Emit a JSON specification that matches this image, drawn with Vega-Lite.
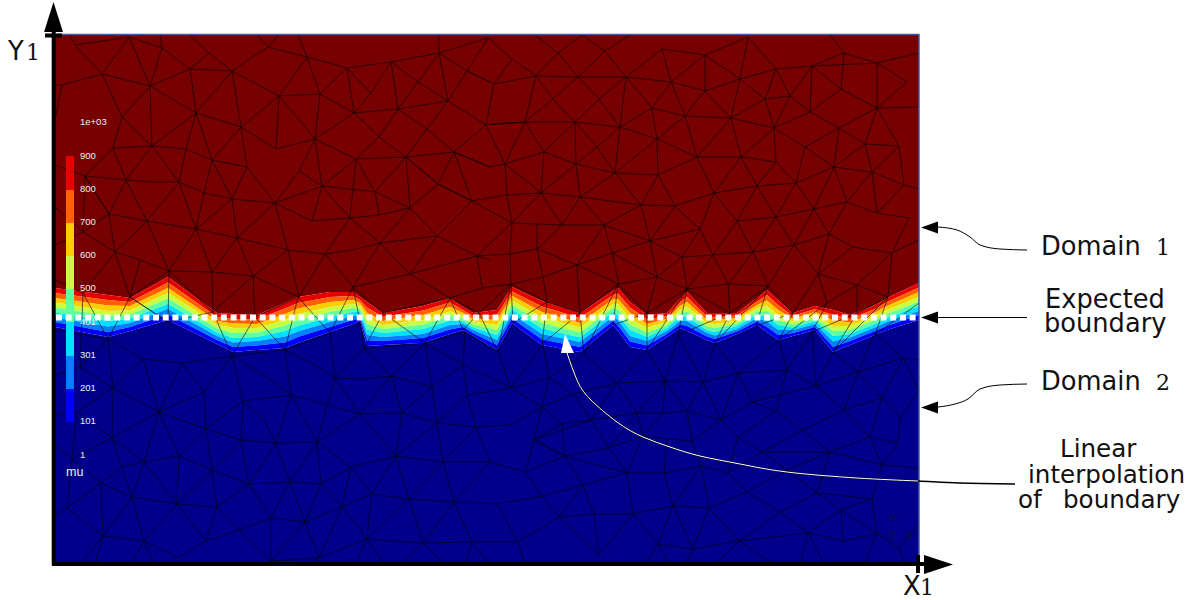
{"$schema":"https://vega.github.io/schema/vega-lite/v6.json","width":1185,"height":600,"padding":0,"autosize":{"type":"none"},"background":"white","config":{"view":{"stroke":null},"axis":{"disable":true}},
"datasets":{
"bands":[{"x":0,"c0":277,"c1":272,"c2":267,"c3":262.5,"c4":257.5,"c5":252.5,"c6":247.5,"c7":243,"c8":238},{"x":53,"c0":270,"c1":265,"c2":259.5,"c3":254,"c4":249,"c5":244,"c6":238.5,"c7":233,"c8":228},{"x":75,"c0":267,"c1":263,"c2":259,"c3":254.5,"c4":250.5,"c5":246.5,"c6":242,"c7":238,"c8":234},{"x":113,"c0":288,"c1":282.5,"c2":277,"c3":272,"c4":266.5,"c5":261,"c6":256,"c7":250.5,"c8":245},{"x":162,"c0":252,"c1":248,"c2":244,"c3":240.5,"c4":236.5,"c5":232.5,"c6":229,"c7":225,"c8":221},{"x":178,"c0":251,"c1":246,"c2":241.5,"c3":237,"c4":232,"c5":227,"c6":222.5,"c7":218,"c8":213},{"x":202,"c0":250,"c1":245.5,"c2":241,"c3":237,"c4":232.5,"c5":228,"c6":224,"c7":219.5,"c8":215},{"x":230,"c0":262,"c1":256.5,"c2":251,"c3":245,"c4":239.5,"c5":234,"c6":228.5,"c7":222.5,"c8":217},{"x":243,"c0":268,"c1":262,"c2":256.5,"c3":251,"c4":245,"c5":239,"c6":233.5,"c7":228,"c8":222},{"x":275,"c0":273,"c1":268,"c2":263,"c3":258,"c4":253,"c5":248,"c6":243,"c7":238,"c8":233},{"x":298,"c0":273,"c1":269,"c2":265,"c3":261,"c4":257,"c5":253,"c6":249,"c7":245,"c8":241},{"x":305,"c0":268,"c1":265,"c2":262,"c3":259,"c4":256,"c5":253,"c6":250,"c7":247,"c8":244},{"x":312,"c0":263,"c1":257.5,"c2":252,"c3":246.5,"c4":241,"c5":235.5,"c6":230,"c7":224.5,"c8":219},{"x":328,"c0":252,"c1":248,"c2":244,"c3":240,"c4":236,"c5":232,"c6":228,"c7":224,"c8":220},{"x":368,"c0":259,"c1":254.5,"c2":250,"c3":245,"c4":240.5,"c5":236,"c6":231,"c7":227,"c8":222},{"x":395,"c0":267,"c1":262.5,"c2":258,"c3":253.5,"c4":249,"c5":244.5,"c6":240,"c7":235.5,"c8":231},{"x":408,"c0":258,"c1":255,"c2":252,"c3":249.5,"c4":246.5,"c5":243.5,"c6":241,"c7":238,"c8":235},{"x":418,"c0":252,"c1":249,"c2":246,"c3":243.5,"c4":240.5,"c5":237.5,"c6":235,"c7":232,"c8":229},{"x":442,"c0":255,"c1":250,"c2":245,"c3":240,"c4":235,"c5":230,"c6":225,"c7":220,"c8":215},{"x":457,"c0":278,"c1":273.5,"c2":269,"c3":264.5,"c4":260,"c5":255.5,"c6":251,"c7":246.5,"c8":242},{"x":487,"c0":264,"c1":258.5,"c2":253,"c3":247.5,"c4":242,"c5":236.5,"c6":231,"c7":225.5,"c8":220},{"x":525,"c0":252,"c1":247,"c2":242,"c3":237.5,"c4":232.5,"c5":227.5,"c6":223,"c7":218,"c8":213},{"x":558,"c0":274,"c1":270,"c2":265.5,"c3":261,"c4":257,"c5":253,"c6":248.5,"c7":244,"c8":240},{"x":563,"c0":277,"c1":271.5,"c2":266,"c3":261,"c4":255.5,"c5":250,"c6":245,"c7":239.5,"c8":234},{"x":575,"c0":263,"c1":257.5,"c2":252,"c3":246,"c4":240.5,"c5":235,"c6":229,"c7":223.5,"c8":218},{"x":592,"c0":250,"c1":245.5,"c2":241,"c3":237,"c4":232.5,"c5":228,"c6":224,"c7":219.5,"c8":215},{"x":612,"c0":252,"c1":249,"c2":246,"c3":243,"c4":240,"c5":237,"c6":234,"c7":231,"c8":228},{"x":625,"c0":266,"c1":262.5,"c2":259,"c3":255,"c4":251.5,"c5":248,"c6":244,"c7":240.5,"c8":237},{"x":632,"c0":273,"c1":268,"c2":263,"c3":258.5,"c4":253.5,"c5":248.5,"c6":244,"c7":239,"c8":234},{"x":652,"c0":252,"c1":248.5,"c2":245,"c3":242,"c4":238.5,"c5":235,"c6":232,"c7":228.5,"c8":225},{"x":660,"c0":252,"c1":248,"c2":244.5,"c3":241,"c4":237,"c5":233,"c6":229.5,"c7":226,"c8":222},{"x":682,"c0":252,"c1":249.5,"c2":247,"c3":244,"c4":241.5,"c5":239,"c6":236,"c7":233.5,"c8":231},{"x":702,"c0":267,"c1":263.5,"c2":260,"c3":257,"c4":253.5,"c5":250,"c6":247,"c7":243.5,"c8":240},{"x":712,"c0":275,"c1":270,"c2":264.5,"c3":259,"c4":254,"c5":249,"c6":243.5,"c7":238,"c8":233},{"x":723,"c0":265,"c1":260,"c2":255,"c3":250,"c4":245,"c5":240,"c6":235,"c7":230,"c8":225},{"x":738,"c0":252,"c1":249,"c2":246,"c3":243.5,"c4":240.5,"c5":237.5,"c6":235,"c7":232,"c8":229},{"x":760,"c0":259,"c1":256,"c2":253,"c3":250,"c4":247,"c5":244,"c6":241,"c7":238,"c8":235},{"x":778,"c0":255,"c1":250,"c2":244.5,"c3":239,"c4":234,"c5":229,"c6":223.5,"c7":218,"c8":213},{"x":795,"c0":250,"c1":246,"c2":242.5,"c3":239,"c4":235,"c5":231,"c6":227.5,"c7":224,"c8":220},{"x":820,"c0":260,"c1":256,"c2":252.5,"c3":249,"c4":245,"c5":241,"c6":237.5,"c7":234,"c8":230},{"x":832,"c0":267,"c1":263,"c2":259,"c3":255,"c4":251,"c5":247,"c6":243,"c7":239,"c8":235},{"x":864,"c0":282,"c1":277.5,"c2":273,"c3":268,"c4":263.5,"c5":259,"c6":254,"c7":250,"c8":245}],
"mesh":[
{"l":1,"x":7,"y":480},{"l":1,"x":47,"y":491},{"l":1,"x":95,"y":479},{"l":1,"x":141,"y":452},{"l":1,"x":186,"y":438},{"l":1,"x":221,"y":416},{"l":1,"x":260,"y":426},{"l":1,"x":301,"y":406},{"l":1,"x":351,"y":408},{"l":1,"x":399,"y":413},{"l":1,"x":435,"y":398},
{"l":2,"x":20,"y":520},{"l":2,"x":47,"y":491},{"l":2,"x":67,"y":448},{"l":2,"x":97,"y":419},{"l":2,"x":131,"y":416},{"l":2,"x":157,"y":405},{"l":2,"x":192,"y":398},{"l":2,"x":220,"y":362},{"l":2,"x":244,"y":394},{"l":2,"x":260,"y":426},{"l":2,"x":265,"y":471},{"l":2,"x":252,"y":508},{"l":2,"x":213,"y":518},{"l":2,"x":202,"y":530},
{"l":3,"x":47,"y":491},{"l":3,"x":74,"y":528},{"l":3,"x":95,"y":479},{"l":3,"x":107,"y":517},{"l":3,"x":74,"y":528},{"l":3,"x":20,"y":520},
{"l":4,"x":105,"y":530},{"l":4,"x":107,"y":517},{"l":4,"x":135,"y":496},{"l":4,"x":95,"y":479},
{"l":5,"x":135,"y":496},{"l":5,"x":154,"y":512},{"l":5,"x":177,"y":494},{"l":5,"x":135,"y":496},{"l":5,"x":141,"y":452},{"l":5,"x":177,"y":494},{"l":5,"x":186,"y":438},{"l":5,"x":224,"y":469},{"l":5,"x":177,"y":494},{"l":5,"x":213,"y":518},{"l":5,"x":224,"y":530},
{"l":6,"x":154,"y":512},{"l":6,"x":135,"y":530},
{"l":7,"x":95,"y":479},{"l":7,"x":67,"y":448},{"l":7,"x":58,"y":417},{"l":7,"x":30,"y":389},{"l":7,"x":0,"y":400},
{"l":8,"x":252,"y":508},{"l":8,"x":224,"y":469},{"l":8,"x":221,"y":416},
{"l":9,"x":224,"y":469},{"l":9,"x":260,"y":426},
{"l":10,"x":224,"y":469},{"l":10,"x":265,"y":471},{"l":10,"x":299,"y":452},{"l":10,"x":343,"y":456},{"l":10,"x":393,"y":464},{"l":10,"x":431,"y":440},{"l":10,"x":399,"y":413},
{"l":11,"x":260,"y":426},{"l":11,"x":299,"y":452},{"l":11,"x":324,"y":428},{"l":11,"x":301,"y":406},{"l":11,"x":295,"y":347},{"l":11,"x":267,"y":379},{"l":11,"x":301,"y":406},
{"l":12,"x":141,"y":452},{"l":12,"x":131,"y":416},{"l":12,"x":124,"y":383},{"l":12,"x":97,"y":419},{"l":12,"x":95,"y":479},
{"l":13,"x":141,"y":452},{"l":13,"x":97,"y":419},{"l":13,"x":71,"y":385},{"l":13,"x":58,"y":417},{"l":13,"x":97,"y":419},
{"l":14,"x":141,"y":452},{"l":14,"x":157,"y":405},{"l":14,"x":186,"y":438},{"l":14,"x":192,"y":398},{"l":14,"x":177,"y":366},{"l":14,"x":157,"y":405},{"l":14,"x":149,"y":372},{"l":14,"x":124,"y":383},{"l":14,"x":96,"y":383},{"l":14,"x":71,"y":385},{"l":14,"x":30,"y":389},{"l":14,"x":54,"y":351},{"l":14,"x":71,"y":385},{"l":14,"x":92,"y":344},{"l":14,"x":124,"y":383},{"l":14,"x":141,"y":336},{"l":14,"x":149,"y":372},
{"l":15,"x":141,"y":336},{"l":15,"x":177,"y":366},{"l":15,"x":182,"y":327},{"l":15,"x":220,"y":362},{"l":15,"x":177,"y":366},{"l":15,"x":149,"y":372},
{"l":16,"x":220,"y":362},{"l":16,"x":233,"y":315},
{"l":17,"x":220,"y":362},{"l":17,"x":257,"y":344},{"l":17,"x":267,"y":379},{"l":17,"x":220,"y":362},
{"l":18,"x":244,"y":394},{"l":18,"x":267,"y":379},{"l":18,"x":260,"y":426},
{"l":19,"x":267,"y":379},{"l":19,"x":320,"y":373},{"l":19,"x":324,"y":350},{"l":19,"x":295,"y":347},{"l":19,"x":257,"y":344},
{"l":20,"x":30,"y":389},{"l":20,"x":54,"y":351},{"l":20,"x":92,"y":344},{"l":20,"x":141,"y":336},{"l":20,"x":182,"y":327},{"l":20,"x":233,"y":315},{"l":20,"x":270,"y":311},{"l":20,"x":297,"y":315},{"l":20,"x":325,"y":322},{"l":20,"x":382,"y":329},{"l":20,"x":422,"y":309},{"l":20,"x":435,"y":305},
{"l":21,"x":270,"y":311},{"l":21,"x":295,"y":347},{"l":21,"x":325,"y":322},{"l":21,"x":355,"y":357},{"l":21,"x":324,"y":350},
{"l":22,"x":320,"y":373},{"l":22,"x":301,"y":406},
{"l":23,"x":320,"y":373},{"l":23,"x":351,"y":408},{"l":23,"x":355,"y":357},{"l":23,"x":320,"y":373},
{"l":24,"x":351,"y":408},{"l":24,"x":324,"y":428},{"l":24,"x":343,"y":456},
{"l":25,"x":355,"y":357},{"l":25,"x":383,"y":381},{"l":25,"x":351,"y":408},{"l":25,"x":383,"y":381},{"l":25,"x":399,"y":413},{"l":25,"x":417,"y":364},{"l":25,"x":383,"y":381},{"l":25,"x":417,"y":364},{"l":25,"x":382,"y":329},{"l":25,"x":355,"y":357},
{"l":26,"x":343,"y":456},{"l":26,"x":372,"y":436},{"l":26,"x":399,"y":413},
{"l":27,"x":351,"y":408},{"l":27,"x":372,"y":436},{"l":27,"x":393,"y":464},
{"l":28,"x":393,"y":464},{"l":28,"x":384,"y":512},{"l":28,"x":363,"y":483},{"l":28,"x":393,"y":464},
{"l":29,"x":343,"y":456},{"l":29,"x":363,"y":483},{"l":29,"x":336,"y":503},{"l":29,"x":343,"y":456},
{"l":30,"x":336,"y":503},{"l":30,"x":384,"y":512},{"l":30,"x":433,"y":527},
{"l":31,"x":384,"y":512},{"l":31,"x":412,"y":494},{"l":31,"x":393,"y":464},
{"l":32,"x":412,"y":494},{"l":32,"x":433,"y":527},
{"l":33,"x":412,"y":494},{"l":33,"x":435,"y":483},
{"l":34,"x":265,"y":471},{"l":34,"x":292,"y":497},{"l":34,"x":252,"y":508},{"l":34,"x":243,"y":530},
{"l":35,"x":299,"y":452},{"l":35,"x":292,"y":497},{"l":35,"x":336,"y":503},{"l":35,"x":316,"y":472},{"l":35,"x":292,"y":497},
{"l":36,"x":316,"y":472},{"l":36,"x":299,"y":452},
{"l":37,"x":54,"y":351},{"l":37,"x":60,"y":313},{"l":37,"x":92,"y":344},{"l":37,"x":114,"y":294},{"l":37,"x":141,"y":336},{"l":37,"x":157,"y":293},{"l":37,"x":182,"y":327},{"l":37,"x":198,"y":289},{"l":37,"x":233,"y":315},{"l":37,"x":244,"y":268},{"l":37,"x":270,"y":311},{"l":37,"x":298,"y":278},{"l":37,"x":325,"y":322},{"l":37,"x":355,"y":291},{"l":37,"x":382,"y":329},
{"l":38,"x":422,"y":309},{"l":38,"x":355,"y":291},{"l":38,"x":298,"y":278},
{"l":39,"x":355,"y":291},{"l":39,"x":395,"y":267},{"l":39,"x":427,"y":277},{"l":39,"x":422,"y":309},
{"l":40,"x":30,"y":389},{"l":40,"x":28,"y":333},{"l":40,"x":54,"y":351},
{"l":41,"x":28,"y":333},{"l":41,"x":60,"y":313},
{"l":42,"x":60,"y":313},{"l":42,"x":85,"y":305},{"l":42,"x":114,"y":294},{"l":42,"x":157,"y":293},{"l":42,"x":198,"y":289},{"l":42,"x":244,"y":268},
{"l":43,"x":85,"y":305},{"l":43,"x":75,"y":268},{"l":43,"x":60,"y":313},{"l":43,"x":28,"y":272},
{"l":44,"x":75,"y":268},{"l":44,"x":114,"y":294},
{"l":45,"x":0,"y":480},{"l":45,"x":7,"y":480},{"l":45,"x":0,"y":445},
{"l":46,"x":0,"y":358},{"l":46,"x":28,"y":333},{"l":46,"x":0,"y":320},
{"l":48,"x":384,"y":530},{"l":48,"x":384,"y":512},
{"l":49,"x":20,"y":520},{"l":49,"x":15,"y":530},
{"l":50,"x":28,"y":272},{"l":50,"x":53,"y":226},{"l":50,"x":75,"y":268},{"l":50,"x":113,"y":243},{"l":50,"x":158,"y":253},{"l":50,"x":177,"y":209},{"l":50,"x":200,"y":248},{"l":50,"x":230,"y":215},{"l":50,"x":243,"y":268},{"l":50,"x":275,"y":232},{"l":50,"x":298,"y":278},{"l":50,"x":305,"y":243},{"l":50,"x":309,"y":216},
{"l":51,"x":114,"y":294},{"l":51,"x":113,"y":243},{"l":51,"x":75,"y":268},
{"l":52,"x":114,"y":294},{"l":52,"x":158,"y":253},{"l":52,"x":157,"y":293},
{"l":53,"x":158,"y":253},{"l":53,"x":198,"y":289},{"l":53,"x":200,"y":248},{"l":53,"x":244,"y":268},
{"l":54,"x":28,"y":272},{"l":54,"x":25,"y":198},
{"l":55,"x":28,"y":272},{"l":55,"x":0,"y":285},
{"l":56,"x":298,"y":278},{"l":56,"x":328,"y":252},{"l":56,"x":309,"y":216},
{"l":57,"x":328,"y":252},{"l":57,"x":370,"y":222},{"l":57,"x":395,"y":267},{"l":57,"x":408,"y":235},{"l":57,"x":424,"y":252},{"l":57,"x":443,"y":213},{"l":57,"x":456,"y":281},{"l":57,"x":458,"y":242},{"l":57,"x":492,"y":263},{"l":57,"x":487,"y":221},{"l":57,"x":525,"y":252},{"l":57,"x":529,"y":211},{"l":57,"x":563,"y":281},{"l":57,"x":558,"y":240},{"l":57,"x":592,"y":252},{"l":57,"x":592,"y":215},{"l":57,"x":632,"y":276},{"l":57,"x":623,"y":230},{"l":57,"x":675,"y":252},{"l":57,"x":660,"y":222},{"l":57,"x":713,"y":279},{"l":57,"x":701,"y":239},{"l":57,"x":738,"y":252},{"l":57,"x":724,"y":225},{"l":57,"x":772,"y":262},{"l":57,"x":757,"y":233},{"l":57,"x":802,"y":252},{"l":57,"x":778,"y":213},{"l":57,"x":833,"y":268},{"l":57,"x":820,"y":230},{"l":57,"x":864,"y":262},
{"l":58,"x":395,"y":267},{"l":58,"x":328,"y":252},
{"l":59,"x":395,"y":267},{"l":59,"x":424,"y":252},{"l":59,"x":456,"y":281},{"l":59,"x":492,"y":263},{"l":59,"x":488,"y":288},
{"l":61,"x":523,"y":278},{"l":61,"x":525,"y":252},{"l":61,"x":492,"y":263},
{"l":62,"x":525,"y":252},{"l":62,"x":563,"y":281},{"l":62,"x":592,"y":252},{"l":62,"x":602,"y":288},
{"l":63,"x":592,"y":252},{"l":63,"x":632,"y":276},{"l":63,"x":675,"y":252},{"l":63,"x":673,"y":281},
{"l":64,"x":675,"y":252},{"l":64,"x":713,"y":279},{"l":64,"x":738,"y":252},{"l":64,"x":763,"y":291},{"l":64,"x":772,"y":262},{"l":64,"x":802,"y":280},{"l":64,"x":802,"y":252},{"l":64,"x":833,"y":268},
{"l":70,"x":439,"y":481},{"l":70,"x":481,"y":489},{"l":70,"x":523,"y":488},{"l":70,"x":571,"y":488},{"l":70,"x":616,"y":483},{"l":70,"x":650,"y":474},{"l":70,"x":685,"y":486},{"l":70,"x":721,"y":496},{"l":70,"x":757,"y":499},{"l":70,"x":822,"y":502},{"l":70,"x":864,"y":512},
{"l":71,"x":435,"y":441},{"l":71,"x":470,"y":443},{"l":71,"x":520,"y":443},{"l":71,"x":565,"y":438},{"l":71,"x":602,"y":426},{"l":71,"x":642,"y":408},{"l":71,"x":686,"y":408},{"l":71,"x":721,"y":403},{"l":71,"x":719,"y":437},{"l":71,"x":676,"y":447},{"l":71,"x":630,"y":449},{"l":71,"x":597,"y":457},{"l":71,"x":565,"y":438},
{"l":72,"x":719,"y":437},{"l":72,"x":750,"y":418},{"l":72,"x":779,"y":398},{"l":72,"x":817,"y":393},{"l":72,"x":849,"y":380},{"l":72,"x":864,"y":376},
{"l":73,"x":719,"y":437},{"l":73,"x":755,"y":453},{"l":73,"x":784,"y":437},{"l":73,"x":750,"y":418},
{"l":74,"x":755,"y":453},{"l":74,"x":735,"y":469},{"l":74,"x":710,"y":466},{"l":74,"x":719,"y":437},{"l":74,"x":735,"y":469},{"l":74,"x":757,"y":499},{"l":74,"x":755,"y":453},{"l":74,"x":786,"y":476},{"l":74,"x":757,"y":499},
{"l":75,"x":786,"y":476},{"l":75,"x":789,"y":512},{"l":75,"x":757,"y":499},
{"l":76,"x":786,"y":476},{"l":76,"x":822,"y":457},{"l":76,"x":822,"y":502},{"l":76,"x":789,"y":512},
{"l":77,"x":822,"y":457},{"l":77,"x":784,"y":437},{"l":77,"x":810,"y":421},{"l":77,"x":822,"y":457},{"l":77,"x":844,"y":419},{"l":77,"x":810,"y":421},{"l":77,"x":779,"y":398},{"l":77,"x":784,"y":437},
{"l":78,"x":822,"y":457},{"l":78,"x":852,"y":483},{"l":78,"x":822,"y":502},
{"l":79,"x":822,"y":457},{"l":79,"x":864,"y":458},
{"l":80,"x":810,"y":421},{"l":80,"x":817,"y":393},{"l":80,"x":844,"y":419},{"l":80,"x":849,"y":380},
{"l":81,"x":676,"y":447},{"l":81,"x":710,"y":466},{"l":81,"x":721,"y":496},{"l":81,"x":735,"y":469},
{"l":82,"x":721,"y":496},{"l":82,"x":693,"y":528},{"l":82,"x":685,"y":486},{"l":82,"x":710,"y":466},
{"l":83,"x":685,"y":486},{"l":83,"x":676,"y":447},{"l":83,"x":650,"y":474},{"l":83,"x":630,"y":449},{"l":83,"x":616,"y":483},{"l":83,"x":597,"y":457},{"l":83,"x":571,"y":488},{"l":83,"x":565,"y":438},
{"l":84,"x":571,"y":488},{"l":84,"x":544,"y":466},{"l":84,"x":520,"y":443},
{"l":85,"x":523,"y":488},{"l":85,"x":544,"y":466},{"l":85,"x":565,"y":438},
{"l":86,"x":481,"y":489},{"l":86,"x":498,"y":466},{"l":86,"x":520,"y":443},
{"l":87,"x":523,"y":488},{"l":87,"x":498,"y":466},{"l":87,"x":470,"y":443},{"l":87,"x":481,"y":489},
{"l":88,"x":457,"y":506},{"l":88,"x":481,"y":489},{"l":88,"x":503,"y":512},{"l":88,"x":523,"y":488},{"l":88,"x":550,"y":514},{"l":88,"x":571,"y":488},{"l":88,"x":607,"y":516},{"l":88,"x":616,"y":483},{"l":88,"x":650,"y":510},{"l":88,"x":607,"y":516},
{"l":89,"x":650,"y":510},{"l":89,"x":650,"y":474},
{"l":90,"x":650,"y":510},{"l":90,"x":685,"y":486},
{"l":91,"x":650,"y":510},{"l":91,"x":693,"y":528},
{"l":92,"x":480,"y":530},{"l":92,"x":503,"y":512},{"l":92,"x":527,"y":530},{"l":92,"x":550,"y":514},{"l":92,"x":575,"y":530},
{"l":94,"x":789,"y":512},{"l":94,"x":775,"y":530},
{"l":95,"x":450,"y":401},{"l":95,"x":470,"y":443},{"l":95,"x":489,"y":413},{"l":95,"x":520,"y":443},{"l":95,"x":521,"y":401},{"l":95,"x":542,"y":418},{"l":95,"x":520,"y":443},
{"l":96,"x":542,"y":418},{"l":96,"x":565,"y":438},{"l":96,"x":560,"y":392},{"l":96,"x":542,"y":418},
{"l":97,"x":450,"y":401},{"l":97,"x":489,"y":413},{"l":97,"x":521,"y":401},{"l":97,"x":560,"y":392},{"l":97,"x":603,"y":390},{"l":97,"x":642,"y":408},
{"l":98,"x":450,"y":401},{"l":98,"x":486,"y":372},{"l":98,"x":489,"y":413},
{"l":99,"x":452,"y":370},{"l":99,"x":486,"y":372},{"l":99,"x":525,"y":368},{"l":99,"x":586,"y":360},{"l":99,"x":620,"y":359},{"l":99,"x":659,"y":372},{"l":99,"x":702,"y":379},{"l":99,"x":741,"y":382},{"l":99,"x":779,"y":398},
{"l":100,"x":486,"y":372},{"l":100,"x":521,"y":401},{"l":100,"x":525,"y":368},{"l":100,"x":560,"y":392},{"l":100,"x":586,"y":360},{"l":100,"x":603,"y":390},{"l":100,"x":620,"y":359},
{"l":101,"x":560,"y":392},{"l":101,"x":602,"y":426},{"l":101,"x":603,"y":390},
{"l":102,"x":602,"y":426},{"l":102,"x":597,"y":457},
{"l":103,"x":602,"y":426},{"l":103,"x":630,"y":449},{"l":103,"x":642,"y":408},{"l":103,"x":676,"y":447},{"l":103,"x":686,"y":408},
{"l":104,"x":642,"y":408},{"l":104,"x":659,"y":372},{"l":104,"x":686,"y":408},{"l":104,"x":702,"y":379},{"l":104,"x":721,"y":403},{"l":104,"x":741,"y":382},{"l":104,"x":750,"y":418},
{"l":105,"x":686,"y":408},{"l":105,"x":719,"y":437},
{"l":106,"x":741,"y":382},{"l":106,"x":759,"y":356},{"l":106,"x":779,"y":398},{"l":106,"x":792,"y":363},{"l":106,"x":817,"y":393},{"l":106,"x":822,"y":352},{"l":106,"x":849,"y":380},
{"l":107,"x":702,"y":379},{"l":107,"x":721,"y":348},{"l":107,"x":741,"y":382},
{"l":108,"x":702,"y":379},{"l":108,"x":682,"y":344},{"l":108,"x":659,"y":372},{"l":108,"x":645,"y":336},{"l":108,"x":620,"y":359},{"l":108,"x":595,"y":324},{"l":108,"x":586,"y":360},{"l":108,"x":549,"y":340},{"l":108,"x":525,"y":368},{"l":108,"x":507,"y":340},{"l":108,"x":486,"y":372},{"l":108,"x":457,"y":342},{"l":108,"x":452,"y":370},
{"l":109,"x":457,"y":342},{"l":109,"x":482,"y":341},{"l":109,"x":507,"y":340},{"l":109,"x":549,"y":340},{"l":109,"x":595,"y":324},{"l":109,"x":645,"y":336},{"l":109,"x":658,"y":310},{"l":109,"x":682,"y":344},{"l":109,"x":698,"y":313},{"l":109,"x":721,"y":348},{"l":109,"x":739,"y":320},{"l":109,"x":759,"y":356},{"l":109,"x":774,"y":331},{"l":109,"x":792,"y":363},
{"l":110,"x":682,"y":344},{"l":110,"x":721,"y":348},{"l":110,"x":759,"y":356},{"l":110,"x":792,"y":363},{"l":110,"x":822,"y":352},{"l":110,"x":854,"y":347},
{"l":111,"x":595,"y":324},{"l":111,"x":627,"y":308},{"l":111,"x":645,"y":336},
{"l":112,"x":627,"y":308},{"l":112,"x":658,"y":310},{"l":112,"x":698,"y":313},{"l":112,"x":739,"y":320},{"l":112,"x":774,"y":331},{"l":112,"x":798,"y":318},{"l":112,"x":837,"y":312},
{"l":113,"x":457,"y":342},{"l":113,"x":455,"y":311},{"l":113,"x":482,"y":316},{"l":113,"x":482,"y":341},
{"l":114,"x":507,"y":340},{"l":114,"x":482,"y":316},{"l":114,"x":522,"y":300},{"l":114,"x":549,"y":340},{"l":114,"x":557,"y":312},{"l":114,"x":522,"y":300},
{"l":115,"x":595,"y":324},{"l":115,"x":557,"y":312},{"l":115,"x":564,"y":281},{"l":115,"x":522,"y":300},{"l":115,"x":523,"y":278},
{"l":116,"x":557,"y":312},{"l":116,"x":602,"y":288},{"l":116,"x":595,"y":324},
{"l":117,"x":627,"y":308},{"l":117,"x":602,"y":288},{"l":117,"x":564,"y":281},
{"l":118,"x":627,"y":308},{"l":118,"x":632,"y":276},{"l":118,"x":658,"y":310},{"l":118,"x":673,"y":281},{"l":118,"x":698,"y":313},{"l":118,"x":713,"y":279},{"l":118,"x":739,"y":320},{"l":118,"x":763,"y":291},{"l":118,"x":774,"y":331},
{"l":119,"x":798,"y":318},{"l":119,"x":763,"y":291},{"l":119,"x":802,"y":280},{"l":119,"x":833,"y":268},{"l":119,"x":837,"y":312},{"l":119,"x":802,"y":280},
{"l":120,"x":455,"y":311},{"l":120,"x":456,"y":281},{"l":120,"x":488,"y":288},{"l":120,"x":522,"y":300},
{"l":121,"x":482,"y":316},{"l":121,"x":488,"y":288},
{"l":122,"x":602,"y":288},{"l":122,"x":632,"y":276},{"l":122,"x":673,"y":281},{"l":122,"x":713,"y":279},
{"l":123,"x":854,"y":347},{"l":123,"x":837,"y":312},{"l":123,"x":864,"y":325},
{"l":124,"x":439,"y":481},{"l":124,"x":457,"y":506},{"l":124,"x":433,"y":527},
{"l":125,"x":431,"y":440},{"l":125,"x":450,"y":401},
{"l":126,"x":399,"y":413},{"l":126,"x":435,"y":398},{"l":126,"x":450,"y":401},{"l":126,"x":452,"y":370},{"l":126,"x":417,"y":364},{"l":126,"x":457,"y":342},{"l":126,"x":422,"y":309},{"l":126,"x":455,"y":311},
{"l":127,"x":427,"y":277},{"l":127,"x":456,"y":281},
{"l":128,"x":470,"y":443},{"l":128,"x":431,"y":440},{"l":128,"x":439,"y":481},{"l":128,"x":412,"y":494},
{"l":130,"x":0,"y":235},{"l":130,"x":53,"y":226},{"l":130,"x":88,"y":206},{"l":130,"x":127,"y":202},{"l":130,"x":177,"y":209},{"l":130,"x":230,"y":215},{"l":130,"x":275,"y":232},
{"l":131,"x":0,"y":190},{"l":131,"x":25,"y":198},{"l":131,"x":53,"y":226},{"l":131,"x":58,"y":177},{"l":131,"x":88,"y":206},{"l":131,"x":104,"y":153},{"l":131,"x":127,"y":202},{"l":131,"x":149,"y":173},{"l":131,"x":177,"y":209},{"l":131,"x":188,"y":164},{"l":131,"x":236,"y":170},{"l":131,"x":230,"y":215},{"l":131,"x":257,"y":202},{"l":131,"x":280,"y":187},{"l":131,"x":275,"y":232},
{"l":132,"x":25,"y":198},{"l":132,"x":58,"y":177},{"l":132,"x":104,"y":153},{"l":132,"x":149,"y":173},{"l":132,"x":151,"y":136},{"l":132,"x":104,"y":153},{"l":132,"x":124,"y":109},{"l":132,"x":151,"y":136},{"l":132,"x":188,"y":164},{"l":132,"x":209,"y":145},{"l":132,"x":221,"y":122},{"l":132,"x":236,"y":170},{"l":132,"x":262,"y":123},{"l":132,"x":280,"y":187},{"l":132,"x":305,"y":151},{"l":132,"x":236,"y":170},
{"l":133,"x":177,"y":209},{"l":133,"x":209,"y":190},{"l":133,"x":236,"y":170},
{"l":134,"x":188,"y":164},{"l":134,"x":186,"y":125},
{"l":135,"x":309,"y":216},{"l":135,"x":280,"y":187},{"l":135,"x":308,"y":186},{"l":135,"x":336,"y":189},{"l":135,"x":309,"y":216},
{"l":136,"x":309,"y":216},{"l":136,"x":370,"y":222},{"l":136,"x":410,"y":233},{"l":136,"x":443,"y":213},
{"l":137,"x":370,"y":222},{"l":137,"x":336,"y":189},{"l":137,"x":347,"y":152},{"l":137,"x":377,"y":178},{"l":137,"x":370,"y":222},{"l":137,"x":408,"y":200},{"l":137,"x":377,"y":178},{"l":137,"x":336,"y":189},{"l":137,"x":305,"y":151},
{"l":138,"x":410,"y":233},{"l":138,"x":408,"y":200},{"l":138,"x":456,"y":177},
{"l":139,"x":305,"y":151},{"l":139,"x":262,"y":123},
{"l":140,"x":305,"y":151},{"l":140,"x":347,"y":152},{"l":140,"x":382,"y":142},{"l":140,"x":421,"y":138},{"l":140,"x":455,"y":140},{"l":140,"x":487,"y":158},
{"l":141,"x":377,"y":178},{"l":141,"x":382,"y":142},{"l":141,"x":412,"y":170},{"l":141,"x":421,"y":138},
{"l":142,"x":408,"y":200},{"l":142,"x":412,"y":170},{"l":142,"x":456,"y":177},
{"l":143,"x":305,"y":151},{"l":143,"x":341,"y":109},{"l":143,"x":347,"y":152},
{"l":144,"x":341,"y":109},{"l":144,"x":382,"y":142},{"l":144,"x":388,"y":103},{"l":144,"x":421,"y":138},{"l":144,"x":435,"y":103},
{"l":145,"x":151,"y":136},{"l":145,"x":186,"y":125},{"l":145,"x":221,"y":122},{"l":145,"x":262,"y":123},
{"l":146,"x":151,"y":136},{"l":146,"x":157,"y":95},{"l":146,"x":186,"y":125},{"l":146,"x":194,"y":81},{"l":146,"x":221,"y":122},{"l":146,"x":235,"y":83},{"l":146,"x":262,"y":123},{"l":146,"x":266,"y":81},
{"l":147,"x":262,"y":123},{"l":147,"x":296,"y":98},{"l":147,"x":341,"y":109},{"l":147,"x":388,"y":103},{"l":147,"x":435,"y":103},
{"l":148,"x":124,"y":109},{"l":148,"x":157,"y":95},{"l":148,"x":194,"y":81},{"l":148,"x":235,"y":83},{"l":148,"x":266,"y":81},{"l":148,"x":296,"y":98},
{"l":149,"x":104,"y":153},{"l":149,"x":89,"y":103},{"l":149,"x":57,"y":127},{"l":149,"x":67,"y":98},{"l":149,"x":89,"y":103},{"l":149,"x":124,"y":109},
{"l":150,"x":57,"y":127},{"l":150,"x":104,"y":153},
{"l":151,"x":58,"y":177},{"l":151,"x":57,"y":127},{"l":151,"x":17,"y":106},{"l":151,"x":46,"y":82},{"l":151,"x":67,"y":98},{"l":151,"x":77,"y":68},{"l":151,"x":89,"y":103},{"l":151,"x":122,"y":61},{"l":151,"x":124,"y":109},
{"l":152,"x":157,"y":95},{"l":152,"x":122,"y":61},
{"l":153,"x":46,"y":82},{"l":153,"x":77,"y":68},{"l":153,"x":122,"y":61},{"l":153,"x":162,"y":58},{"l":153,"x":157,"y":95},
{"l":154,"x":194,"y":81},{"l":154,"x":162,"y":58},{"l":154,"x":184,"y":35},{"l":154,"x":216,"y":47},{"l":154,"x":194,"y":81},
{"l":155,"x":235,"y":83},{"l":155,"x":216,"y":47},{"l":155,"x":250,"y":43},{"l":155,"x":235,"y":83},
{"l":156,"x":266,"y":81},{"l":156,"x":250,"y":43},{"l":156,"x":287,"y":58},{"l":156,"x":266,"y":81},
{"l":157,"x":296,"y":98},{"l":157,"x":287,"y":58},{"l":157,"x":317,"y":71},{"l":157,"x":296,"y":98},
{"l":158,"x":341,"y":109},{"l":158,"x":317,"y":71},{"l":158,"x":354,"y":66},{"l":158,"x":341,"y":109},
{"l":159,"x":388,"y":103},{"l":159,"x":354,"y":66},{"l":159,"x":399,"y":63},{"l":159,"x":388,"y":103},
{"l":160,"x":435,"y":103},{"l":160,"x":399,"y":63},{"l":160,"x":442,"y":61},
{"l":161,"x":12,"y":57},{"l":161,"x":46,"y":82},{"l":161,"x":48,"y":29},{"l":161,"x":77,"y":68},{"l":161,"x":89,"y":24},{"l":161,"x":122,"y":61},{"l":161,"x":151,"y":24},{"l":161,"x":162,"y":58},
{"l":162,"x":151,"y":24},{"l":162,"x":184,"y":35},{"l":162,"x":216,"y":4},{"l":162,"x":216,"y":47},
{"l":163,"x":250,"y":43},{"l":163,"x":216,"y":4},{"l":163,"x":264,"y":7},{"l":163,"x":250,"y":43},
{"l":164,"x":287,"y":58},{"l":164,"x":264,"y":7},{"l":164,"x":312,"y":26},{"l":164,"x":287,"y":58},
{"l":165,"x":317,"y":71},{"l":165,"x":312,"y":26},{"l":165,"x":354,"y":66},{"l":165,"x":368,"y":22},{"l":165,"x":399,"y":63},{"l":165,"x":417,"y":23},
{"l":166,"x":312,"y":26},{"l":166,"x":368,"y":22},{"l":166,"x":417,"y":23},{"l":166,"x":463,"y":23},
{"l":167,"x":12,"y":57},{"l":167,"x":48,"y":29},{"l":167,"x":89,"y":24},{"l":167,"x":123,"y":7},{"l":167,"x":151,"y":24},
{"l":168,"x":17,"y":106},{"l":168,"x":12,"y":57},{"l":168,"x":0,"y":50},
{"l":169,"x":17,"y":106},{"l":169,"x":0,"y":120},
{"l":170,"x":22,"y":153},{"l":170,"x":58,"y":177},
{"l":171,"x":22,"y":153},{"l":171,"x":17,"y":106},
{"l":172,"x":0,"y":150},{"l":172,"x":22,"y":153},{"l":172,"x":57,"y":127},
{"l":174,"x":40,"y":0},{"l":174,"x":48,"y":29},{"l":174,"x":25,"y":0},
{"l":175,"x":75,"y":0},{"l":175,"x":89,"y":24},{"l":175,"x":100,"y":0},
{"l":177,"x":210,"y":0},{"l":177,"x":216,"y":4},
{"l":178,"x":255,"y":0},{"l":178,"x":264,"y":7},
{"l":179,"x":300,"y":0},{"l":179,"x":312,"y":26},{"l":179,"x":330,"y":0},
{"l":181,"x":345,"y":0},{"l":181,"x":368,"y":22},{"l":181,"x":390,"y":0},
{"l":183,"x":410,"y":0},{"l":183,"x":417,"y":23},{"l":183,"x":435,"y":0},
{"l":190,"x":443,"y":213},{"l":190,"x":456,"y":177},{"l":190,"x":488,"y":221},{"l":190,"x":494,"y":187},{"l":190,"x":529,"y":211},{"l":190,"x":562,"y":182},{"l":190,"x":592,"y":215},{"l":190,"x":610,"y":184},{"l":190,"x":623,"y":230},{"l":190,"x":648,"y":183},{"l":190,"x":660,"y":222},{"l":190,"x":683,"y":192},{"l":190,"x":724,"y":225},{"l":190,"x":732,"y":195},{"l":190,"x":757,"y":233},{"l":190,"x":761,"y":179},{"l":190,"x":778,"y":213},{"l":190,"x":803,"y":193},{"l":190,"x":820,"y":232},{"l":190,"x":848,"y":207},{"l":190,"x":864,"y":205},
{"l":191,"x":456,"y":177},{"l":191,"x":494,"y":187},{"l":191,"x":487,"y":158},{"l":191,"x":456,"y":177},
{"l":192,"x":494,"y":187},{"l":192,"x":519,"y":171},{"l":192,"x":562,"y":182},{"l":192,"x":536,"y":145},{"l":192,"x":519,"y":171},{"l":192,"x":487,"y":158},
{"l":193,"x":562,"y":182},{"l":193,"x":610,"y":184},{"l":193,"x":648,"y":183},{"l":193,"x":683,"y":192},{"l":193,"x":732,"y":195},{"l":193,"x":761,"y":179},{"l":193,"x":803,"y":193},{"l":193,"x":848,"y":207},{"l":193,"x":827,"y":167},{"l":193,"x":803,"y":193},{"l":193,"x":789,"y":155},{"l":193,"x":761,"y":179},{"l":193,"x":697,"y":163},{"l":193,"x":732,"y":195},{"l":193,"x":721,"y":154},{"l":193,"x":697,"y":163},{"l":193,"x":683,"y":192},{"l":193,"x":666,"y":145},{"l":193,"x":648,"y":183},{"l":193,"x":632,"y":154},{"l":193,"x":610,"y":184},{"l":193,"x":582,"y":152},{"l":193,"x":562,"y":182},
{"l":194,"x":610,"y":184},{"l":194,"x":608,"y":152},{"l":194,"x":582,"y":152},{"l":194,"x":536,"y":145},{"l":194,"x":507,"y":141},{"l":194,"x":487,"y":158},{"l":194,"x":479,"y":125},{"l":194,"x":507,"y":141},{"l":194,"x":510,"y":109},{"l":194,"x":479,"y":125},{"l":194,"x":536,"y":145},{"l":194,"x":554,"y":117},{"l":194,"x":582,"y":152},{"l":194,"x":588,"y":129},{"l":194,"x":608,"y":152},{"l":194,"x":632,"y":154},{"l":194,"x":666,"y":145},{"l":194,"x":697,"y":163},
{"l":195,"x":632,"y":154},{"l":195,"x":637,"y":124},{"l":195,"x":666,"y":145},{"l":195,"x":683,"y":128},{"l":195,"x":721,"y":154},{"l":195,"x":748,"y":135},{"l":195,"x":789,"y":155},{"l":195,"x":815,"y":128},{"l":195,"x":827,"y":167},{"l":195,"x":845,"y":147},{"l":195,"x":864,"y":175},{"l":195,"x":848,"y":207},
{"l":196,"x":789,"y":155},{"l":196,"x":827,"y":167},
{"l":197,"x":479,"y":125},{"l":197,"x":510,"y":109},{"l":197,"x":554,"y":117},{"l":197,"x":588,"y":129},{"l":197,"x":612,"y":126},{"l":197,"x":637,"y":124},{"l":197,"x":646,"y":99},
{"l":198,"x":683,"y":128},{"l":198,"x":707,"y":113},{"l":198,"x":748,"y":135},{"l":198,"x":775,"y":113},{"l":198,"x":815,"y":128},{"l":198,"x":843,"y":122},{"l":198,"x":845,"y":147},
{"l":199,"x":707,"y":113},{"l":199,"x":775,"y":113},
{"l":200,"x":479,"y":125},{"l":200,"x":470,"y":93},{"l":200,"x":510,"y":109},{"l":200,"x":572,"y":92},{"l":200,"x":554,"y":117},
{"l":201,"x":588,"y":129},{"l":201,"x":572,"y":92},{"l":201,"x":609,"y":92},{"l":201,"x":612,"y":126},
{"l":202,"x":683,"y":128},{"l":202,"x":673,"y":92},{"l":202,"x":707,"y":113},{"l":202,"x":732,"y":95},{"l":202,"x":775,"y":113},{"l":202,"x":762,"y":72},{"l":202,"x":732,"y":95},{"l":202,"x":692,"y":73},{"l":202,"x":673,"y":92},{"l":202,"x":646,"y":99},{"l":202,"x":609,"y":92},
{"l":203,"x":775,"y":113},{"l":203,"x":827,"y":100},{"l":203,"x":815,"y":128},
{"l":204,"x":843,"y":122},{"l":204,"x":827,"y":100},{"l":204,"x":817,"y":66},{"l":204,"x":762,"y":72},{"l":204,"x":786,"y":55},{"l":204,"x":817,"y":66},{"l":204,"x":822,"y":31},{"l":204,"x":786,"y":55},{"l":204,"x":753,"y":32},{"l":204,"x":725,"y":53},{"l":204,"x":762,"y":72},
{"l":205,"x":692,"y":73},{"l":205,"x":725,"y":53},{"l":205,"x":684,"y":24},{"l":205,"x":654,"y":57},{"l":205,"x":692,"y":73},
{"l":206,"x":646,"y":99},{"l":206,"x":654,"y":57},{"l":206,"x":638,"y":16},{"l":206,"x":618,"y":59},{"l":206,"x":646,"y":99},
{"l":207,"x":609,"y":92},{"l":207,"x":618,"y":59},{"l":207,"x":603,"y":21},{"l":207,"x":578,"y":51},{"l":207,"x":572,"y":92},{"l":207,"x":528,"y":80},{"l":207,"x":510,"y":109},
{"l":208,"x":528,"y":80},{"l":208,"x":539,"y":51},{"l":208,"x":504,"y":48},{"l":208,"x":528,"y":80},{"l":208,"x":487,"y":69},{"l":208,"x":442,"y":61},
{"l":209,"x":487,"y":69},{"l":209,"x":470,"y":93},{"l":209,"x":435,"y":103},
{"l":210,"x":487,"y":69},{"l":210,"x":504,"y":48},
{"l":211,"x":442,"y":61},{"l":211,"x":463,"y":23},{"l":211,"x":504,"y":48},{"l":211,"x":544,"y":10},{"l":211,"x":539,"y":51},{"l":211,"x":578,"y":51},{"l":211,"x":544,"y":10},
{"l":212,"x":578,"y":51},{"l":212,"x":618,"y":59},{"l":212,"x":654,"y":57},
{"l":213,"x":603,"y":21},{"l":213,"x":638,"y":16},{"l":213,"x":684,"y":24},{"l":213,"x":753,"y":32},{"l":213,"x":788,"y":24},{"l":213,"x":822,"y":31},{"l":213,"x":844,"y":17},
{"l":214,"x":786,"y":55},{"l":214,"x":788,"y":24},
{"l":215,"x":827,"y":100},{"l":215,"x":864,"y":97},
{"l":217,"x":463,"y":23},{"l":217,"x":470,"y":0},
{"l":218,"x":590,"y":0},{"l":218,"x":603,"y":21},{"l":218,"x":615,"y":0},
{"l":219,"x":630,"y":0},{"l":219,"x":638,"y":16},
{"l":220,"x":660,"y":0},{"l":220,"x":684,"y":24},{"l":220,"x":720,"y":0},
{"l":221,"x":745,"y":0},{"l":221,"x":753,"y":32},{"l":221,"x":770,"y":0},
{"l":222,"x":808,"y":0},{"l":222,"x":822,"y":31},
{"l":223,"x":864,"y":40},{"l":223,"x":844,"y":17},{"l":223,"x":850,"y":0}
],
"border":[{"x":0,"y":530.5},{"x":864,"y":530.5},{"x":864,"y":0}],
"legendBar":[{"x":11,"x2":19,"y":143,"y2":176,"level":"101"},{"x":11,"x2":19,"y":176,"y2":209,"level":"201"},{"x":11,"x2":19,"y":209,"y2":243,"level":"301"},{"x":11,"x2":19,"y":243,"y2":276,"level":"401"},{"x":11,"x2":19,"y":276,"y2":309,"level":"500"},{"x":11,"x2":19,"y":309,"y2":342,"level":"600"},{"x":11,"x2":19,"y":342,"y2":375,"level":"700"},{"x":11,"x2":19,"y":375,"y2":409,"level":"800"}],
"legendText":[{"x":25,"y":443,"t":"1e+03"},{"x":25,"y":409,"t":"900"},{"x":25,"y":376,"t":"800"},{"x":25,"y":343,"t":"700"},{"x":25,"y":310,"t":"600"},{"x":25,"y":277,"t":"500"},{"x":25,"y":243,"t":"401"},{"x":25,"y":210,"t":"301"},{"x":25,"y":177,"t":"201"},{"x":25,"y":144,"t":"101"},{"x":25,"y":110,"t":"1"}],
"expected":[{"x":1,"y":247.5},{"x":863,"y":247.5}],
"axes":[{"x":-1.3,"y":0,"u":-1.3,"v":535},{"x":-3,"y":1,"u":871,"v":1},{"x":-10,"y":529.5,"u":7,"v":529.5},{"x":863,"y":10,"u":863,"v":-8}],
"calloutA":[{"x":883,"y":338},{"x":902,"y":335},{"x":915,"y":328},{"x":925,"y":320},{"x":945,"y":316},{"x":972,"y":315}],
"calloutB":[{"x":883,"y":247.5},{"x":972,"y":247.5}],
"calloutC":[{"x":883,"y":158},{"x":900,"y":161},{"x":913,"y":166},{"x":925,"y":176},{"x":945,"y":180},{"x":972,"y":181}],
"curve":[{"x":512,"y":212},{"x":522,"y":185},{"x":535,"y":166},{"x":562,"y":143},{"x":588,"y":128},{"x":615,"y":118},{"x":645,"y":109},{"x":685,"y":101},{"x":732,"y":93},{"x":802,"y":87},{"x":863,"y":84},{"x":905,"y":82},{"x":960,"y":81}],
"curveWhite":[{"x":512,"y":212},{"x":522,"y":185},{"x":535,"y":166},{"x":562,"y":143},{"x":588,"y":128},{"x":615,"y":118},{"x":645,"y":109},{"x":685,"y":101},{"x":732,"y":93},{"x":802,"y":87},{"x":863,"y":84}],
"sansTextWide":[{"x":986,"y":310,"t":"Domain"},{"x":986,"y":175,"t":"Domain"},{"x":990,"y":257,"t":"Expected"},{"x":989,"y":233,"t":"boundary"},{"x":-47,"y":505,"t":"Y"},{"x":848,"y":-30,"t":"X"}],
"sansText":[{"x":1005,"y":108,"t":"Linear"},{"x":973,"y":82,"t":"interpolation"},{"x":963,"y":57,"t":"of"},{"x":1008,"y":57,"t":"boundary"}],
"serifText":[{"x":1101,"y":310,"t":"1"},{"x":1101,"y":175,"t":"2"},{"x":-29,"y":505,"t":"1"},{"x":865,"y":-30,"t":"1"}],
"triad":[{"x":838,"y":46,"t":"Y"},{"x":837,"y":29,"t":"Z"},{"x":854,"y":29,"t":"X"}]
},
"encoding":{"x":{"field":"x","type":"quantitative","scale":{"domain":[-55,1130],"nice":false,"zero":false},"axis":null},"y":{"field":"y","type":"quantitative","scale":{"domain":[-35,565],"nice":false,"zero":false},"axis":null}},
"layer":[
{"data":{"name":"bands"},"mark":{"type":"area","color":"#770000"},"encoding":{"y":{"field":"c0","type":"quantitative"},"y2":{"datum":530}}},
{"data":{"name":"bands"},"mark":{"type":"area","color":"#e60000"},"encoding":{"y":{"field":"c0","type":"quantitative"},"y2":{"field":"c1"}}},
{"data":{"name":"bands"},"mark":{"type":"area","color":"#ff5f00"},"encoding":{"y":{"field":"c1","type":"quantitative"},"y2":{"field":"c2"}}},
{"data":{"name":"bands"},"mark":{"type":"area","color":"#ffcc00"},"encoding":{"y":{"field":"c2","type":"quantitative"},"y2":{"field":"c3"}}},
{"data":{"name":"bands"},"mark":{"type":"area","color":"#c8ff40"},"encoding":{"y":{"field":"c3","type":"quantitative"},"y2":{"field":"c4"}}},
{"data":{"name":"bands"},"mark":{"type":"area","color":"#60ffa0"},"encoding":{"y":{"field":"c4","type":"quantitative"},"y2":{"field":"c5"}}},
{"data":{"name":"bands"},"mark":{"type":"area","color":"#00e0ff"},"encoding":{"y":{"field":"c5","type":"quantitative"},"y2":{"field":"c6"}}},
{"data":{"name":"bands"},"mark":{"type":"area","color":"#0080ff"},"encoding":{"y":{"field":"c6","type":"quantitative"},"y2":{"field":"c7"}}},
{"data":{"name":"bands"},"mark":{"type":"area","color":"#0000ff"},"encoding":{"y":{"field":"c7","type":"quantitative"},"y2":{"field":"c8"}}},
{"data":{"name":"bands"},"mark":{"type":"area","color":"#00008b"},"encoding":{"y":{"field":"c8","type":"quantitative"},"y2":{"datum":0}}},
{"data":{"name":"mesh"},"mark":{"type":"line","color":"#000000","strokeWidth":0.7,"opacity":0.85},"encoding":{"detail":{"field":"l","type":"nominal"},"order":{"value":null}}},
{"data":{"name":"border"},"mark":{"type":"line","color":"#3f5aa8","strokeWidth":1.5},"encoding":{"order":{"value":null}}},
{"data":{"name":"legendBar"},"mark":{"type":"rect"},"encoding":{"x2":{"field":"x2"},"y2":{"field":"y2"},"color":{"field":"level","type":"nominal","legend":null,"scale":{"domain":["101","201","301","401","500","600","700","800"],"range":["#0000ff","#0080ff","#00e0ff","#60ffa0","#c8ff40","#ffcc00","#ff6000","#e80000"]}}}},
{"data":{"name":"legendText"},"mark":{"type":"text","align":"left","baseline":"middle","font":"Liberation Sans","fontSize":9.5,"color":"#eeeeee"},"encoding":{"text":{"field":"t","type":"nominal"}}},
{"data":{"values":[{"x":11,"y":93,"t":"mu"}]},"mark":{"type":"text","align":"left","baseline":"middle","font":"Liberation Sans","fontSize":12.5,"color":"#eeeeee"},"encoding":{"text":{"field":"t","type":"nominal"}}},
{"data":{"name":"triad"},"mark":{"type":"text","align":"center","baseline":"middle","font":"Liberation Sans","fontSize":10,"color":"#111133"},"encoding":{"text":{"field":"t","type":"nominal"}}},
{"data":{"name":"curve"},"mark":{"type":"line","color":"#000000","strokeWidth":1.4,"interpolate":"natural"},"encoding":{"y":{"field":"y","type":"quantitative"}}},
{"data":{"name":"curveWhite"},"mark":{"type":"line","color":"#ffffff","strokeWidth":1,"interpolate":"natural"}},
{"data":{"name":"expected"},"mark":{"type":"line","color":"#ffffff","strokeWidth":6,"strokeDash":[6,3.7]}},
{"data":{"name":"axes"},"mark":{"type":"rule","color":"#000000","strokeWidth":4},"encoding":{"x2":{"field":"u"},"y2":{"field":"v"}}},
{"data":{"values":[{"x":-1.5,"y":548}]},"mark":{"type":"point","filled":true,"opacity":1,"color":"#000000","size":900,"shape":"M0,-1L0.63,1L-0.63,1Z"}},
{"data":{"values":[{"x":883.5,"y":0.5}]},"mark":{"type":"point","filled":true,"opacity":1,"color":"#000000","size":841,"shape":"M1,0L-1,0.66L-1,-0.66Z"}},
{"data":{"values":[{"x":874.5,"y":337.5},{"x":874.5,"y":247.5},{"x":874.5,"y":157.5}]},"mark":{"type":"point","filled":true,"opacity":1,"color":"#000000","size":289,"shape":"M-1,0L1,-0.72L1,0.72Z"}},
{"data":{"values":[{"x":512.5,"y":221.5}]},"mark":{"type":"point","filled":true,"opacity":1,"color":"#ffffff","size":361,"shape":"M-0.26,-1L0.68,1L-0.68,1Z"}},
{"data":{"name":"calloutA"},"mark":{"type":"line","color":"#000000","strokeWidth":1,"interpolate":"monotone"}},
{"data":{"name":"calloutB"},"mark":{"type":"line","color":"#000000","strokeWidth":1}},
{"data":{"name":"calloutC"},"mark":{"type":"line","color":"#000000","strokeWidth":1,"interpolate":"monotone"}},
{"data":{"name":"sansTextWide"},"mark":{"type":"text","align":"left","baseline":"alphabetic","font":"DejaVu Sans","fontSize":25.7,"color":"#111111"},"encoding":{"text":{"field":"t","type":"nominal"}}},
{"data":{"name":"sansText"},"mark":{"type":"text","align":"left","baseline":"alphabetic","font":"DejaVu Sans","fontSize":24.6,"color":"#111111"},"encoding":{"text":{"field":"t","type":"nominal"}}},
{"data":{"name":"serifText"},"mark":{"type":"text","align":"left","baseline":"alphabetic","font":"DejaVu Serif","fontSize":22,"color":"#111111"},"encoding":{"text":{"field":"t","type":"nominal"}}}
]}
